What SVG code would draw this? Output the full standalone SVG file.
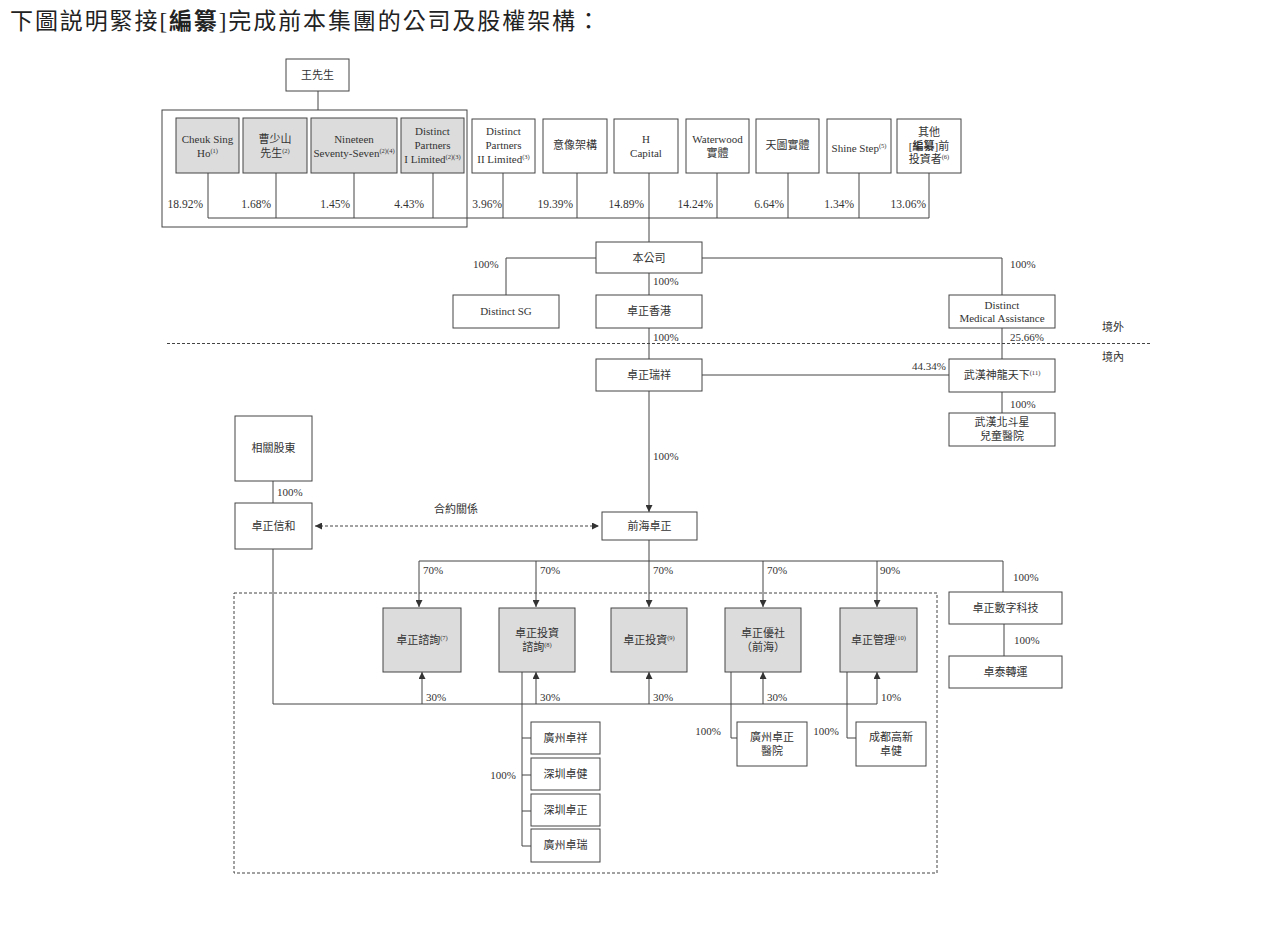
<svg xmlns="http://www.w3.org/2000/svg" width="1269" height="947" viewBox="0 0 1269 947">
<defs>
<style>
text{font-family:"Liberation Serif","Noto Sans CJK TC",serif;fill:#333;font-size:11px}
.t{text-anchor:middle}
.e{text-anchor:end}
.p{font-size:11.5px}
.title{font-size:23px;letter-spacing:1.9px;fill:#222}
.b{fill:#fff;stroke:#444;stroke-width:1}
.g{fill:#dcdcdc;stroke:#444;stroke-width:1}
.ln{fill:none;stroke:#444;stroke-width:1}
.dash{fill:none;stroke:#444;stroke-width:1;stroke-dasharray:3,2}
.sup{font-size:6.5px}
</style>
<marker id="ah" viewBox="0 0 8 8" refX="8" refY="4" markerWidth="7" markerHeight="7" markerUnits="userSpaceOnUse" orient="auto-start-reverse">
<path d="M0,0 L8,4 L0,8 Z" fill="#333"/>
</marker>
</defs>
<rect width="1269" height="947" fill="#fff"/>
<text class="title" x="10" y="29">下圖説明緊接[<tspan font-weight="bold">編纂</tspan>]完成前本集團的公司及股權架構：</text>

<g id="connectors">
<path class="ln" d="M318,91 V110"/>
<rect class="ln" x="162" y="110" width="305" height="117"/>
<path class="ln" d="M208,218 H929 M208,173 V218 M276,173 V218 M354,173 V218 M433,173 V218 M503,173 V218 M577,173 V218 M717,173 V218 M788,173 V218 M859,173 V218 M929,173 V218"/>
<path class="ln" d="M649,173 V242"/>
<path class="ln" d="M596,258 H506 V295 M702,258 H1002 V295 M649,273 V295 M649,328 V359 M1002,328 V359 M702,375 H949 M1002,391 V413"/>
<path class="ln" d="M649,391 V512" marker-end="url(#ah)"/>
<path class="ln" d="M273,481 V503"/>
<path class="dash" d="M315,526 H599" marker-start="url(#ah)" marker-end="url(#ah)"/>
<path class="ln" d="M649,540 V561 M419,561 H1003 V592"/>
<path class="ln" d="M419,561 V607" marker-end="url(#ah)"/>
<path class="ln" d="M536,561 V607" marker-end="url(#ah)"/>
<path class="ln" d="M649,561 V607" marker-end="url(#ah)"/>
<path class="ln" d="M763,561 V607" marker-end="url(#ah)"/>
<path class="ln" d="M877,561 V607" marker-end="url(#ah)"/>
<path class="ln" d="M273,549 V704 H877"/>
<path class="ln" d="M422,704 V672" marker-end="url(#ah)"/>
<path class="ln" d="M536,704 V672" marker-end="url(#ah)"/>
<path class="ln" d="M649,704 V672" marker-end="url(#ah)"/>
<path class="ln" d="M763,704 V672" marker-end="url(#ah)"/>
<path class="ln" d="M877,704 V672" marker-end="url(#ah)"/>
<path class="ln" d="M522,672 V846 M522,738 H531 M522,775 H531 M522,811 H531 M522,846 H531"/>
<path class="ln" d="M731,672 V738 H737 M847,672 V738 H856"/>
<path class="ln" d="M1004,624 V656"/>
<path class="dash" d="M167,343.5 H1152" stroke-dasharray="2,1.5"/>
<rect class="dash" x="234" y="593" width="703" height="280"/>
</g>

<g id="labels">
<text class="p e" x="203" y="208">18.92%</text>
<text class="p e" x="271" y="208">1.68%</text>
<text class="p e" x="350" y="208">1.45%</text>
<text class="p e" x="424" y="208">4.43%</text>
<text class="p e" x="502" y="208">3.96%</text>
<text class="p e" x="573" y="208">19.39%</text>
<text class="p e" x="644" y="208">14.89%</text>
<text class="p e" x="713" y="208">14.24%</text>
<text class="p e" x="784" y="208">6.64%</text>
<text class="p e" x="854" y="208">1.34%</text>
<text class="p e" x="926" y="208">13.06%</text>
<text x="473" y="268">100%</text>
<text x="653" y="285">100%</text>
<text x="653" y="341">100%</text>
<text x="1010" y="268">100%</text>
<text x="1010" y="341">25.66%</text>
<text class="e" x="946" y="370">44.34%</text>
<text x="1010" y="408">100%</text>
<text x="1102" y="331">境外</text>
<text x="1102" y="361">境內</text>
<text x="653" y="460">100%</text>
<text x="277" y="496">100%</text>
<text class="t" x="456" y="513">合約關係</text>
<text x="423" y="574">70%</text>
<text x="540" y="574">70%</text>
<text x="653" y="574">70%</text>
<text x="767" y="574">70%</text>
<text x="880" y="574">90%</text>
<text x="1013" y="581">100%</text>
<text x="1014" y="644">100%</text>
<text x="426" y="701">30%</text>
<text x="540" y="701">30%</text>
<text x="653" y="701">30%</text>
<text x="767" y="701">30%</text>
<text x="881" y="701">10%</text>
<text class="e" x="516" y="779">100%</text>
<text class="e" x="721" y="735">100%</text>
<text class="e" x="839" y="735">100%</text>
</g>

<g id="n-wang"><rect class="b" x="286" y="59" width="63" height="32"/><text class="t" x="317.5" y="79">王先生</text></g>
<g id="n-cheuk"><rect class="g" x="176" y="118" width="63" height="55"/><text class="t" x="207.5" y="143">Cheuk Sing</text><text class="t" x="207.5" y="157">Ho<tspan class="sup" dy="-4">(1)</tspan></text></g>
<g id="n-cao"><rect class="g" x="243" y="118" width="64" height="55"/><text class="t" x="275" y="143">曹少山</text><text class="t" x="275" y="157">先生<tspan class="sup" dy="-4">(2)</tspan></text></g>
<g id="n-nineteen"><rect class="g" x="311" y="118" width="86" height="55"/><text class="t" x="354" y="143">Nineteen</text><text class="t" x="354" y="157">Seventy-Seven<tspan class="sup" dy="-4">(2)(4)</tspan></text></g>
<g id="n-dp1"><rect class="g" x="401" y="118" width="63" height="55"/><text class="t" x="432.5" y="135">Distinct</text><text class="t" x="432.5" y="149">Partners</text><text class="t" x="432.5" y="163">I Limited<tspan class="sup" dy="-4">(2)(3)</tspan></text></g>
<g id="n-dp2"><rect class="b" x="472" y="119" width="63" height="54"/><text class="t" x="503.5" y="135">Distinct</text><text class="t" x="503.5" y="149">Partners</text><text class="t" x="503.5" y="163">II Limited<tspan class="sup" dy="-4">(3)</tspan></text></g>
<g id="n-yixiang"><rect class="b" x="543" y="119" width="64" height="54"/><text class="t" x="575" y="149">意像架構</text></g>
<g id="n-hcap"><rect class="b" x="614" y="119" width="64" height="54"/><text class="t" x="646" y="143">H</text><text class="t" x="646" y="157">Capital</text></g>
<g id="n-waterwood"><rect class="b" x="686" y="119" width="63" height="54"/><text class="t" x="717.5" y="143">Waterwood</text><text class="t" x="717.5" y="157">實體</text></g>
<g id="n-tiantu"><rect class="b" x="756" y="119" width="63" height="54"/><text class="t" x="787.5" y="149">天圖實體</text></g>
<g id="n-shine"><rect class="b" x="827" y="119" width="64" height="54"/><text class="t" x="859" y="152">Shine Step<tspan class="sup" dy="-4">(5)</tspan></text></g>
<g id="n-other"><rect class="b" x="897" y="119" width="64" height="54"/><text class="t" x="929" y="136">其他</text><text class="t" x="929" y="150">[<tspan font-weight="bold">編纂</tspan>]前</text><text class="t" x="929" y="163">投資者<tspan class="sup" dy="-4">(6)</tspan></text></g>

<g id="n-company"><rect class="b" x="596" y="242" width="106" height="31"/><text class="t" x="649" y="262">本公司</text></g>
<g id="n-dsg"><rect class="b" x="453" y="295" width="106" height="33"/><text class="t" x="506" y="315">Distinct SG</text></g>
<g id="n-hk"><rect class="b" x="596" y="295" width="106" height="33"/><text class="t" x="649" y="315">卓正香港</text></g>
<g id="n-dma"><rect class="b" x="949" y="295" width="106" height="33"/><text class="t" x="1002" y="309">Distinct</text><text class="t" x="1002" y="322">Medical Assistance</text></g>
<g id="n-ruixiang"><rect class="b" x="596" y="359" width="106" height="32"/><text class="t" x="649" y="379">卓正瑞祥</text></g>
<g id="n-shenlong"><rect class="b" x="949" y="359" width="106" height="33"/><text class="t" x="1002" y="379">武漢神龍天下<tspan class="sup" dy="-4">(11)</tspan></text></g>
<g id="n-beidou"><rect class="b" x="949" y="413" width="106" height="33"/><text class="t" x="1002" y="426">武漢北斗星</text><text class="t" x="1002" y="440">兒童醫院</text></g>

<g id="n-xianggu"><rect class="b" x="235" y="416" width="77" height="65"/><text class="t" x="273.5" y="452">相關股東</text></g>
<g id="n-xinhe"><rect class="b" x="235" y="503" width="77" height="46"/><text class="t" x="273.5" y="530">卓正信和</text></g>
<g id="n-qianhai"><rect class="b" x="602" y="512" width="95" height="28"/><text class="t" x="649.5" y="530">前海卓正</text></g>

<g id="n-zixun"><rect class="g" x="383" y="608" width="78" height="64"/><text class="t" x="422" y="644">卓正諮詢<tspan class="sup" dy="-4">(7)</tspan></text></g>
<g id="n-tzzx"><rect class="g" x="499" y="608" width="76" height="64"/><text class="t" x="537" y="637">卓正投資</text><text class="t" x="537" y="651">諮詢<tspan class="sup" dy="-4">(8)</tspan></text></g>
<g id="n-touzi"><rect class="g" x="611" y="608" width="76" height="64"/><text class="t" x="649" y="644">卓正投資<tspan class="sup" dy="-4">(9)</tspan></text></g>
<g id="n-youshe"><rect class="g" x="725" y="608" width="76" height="64"/><text class="t" x="763" y="637">卓正優社</text><text class="t" x="763" y="651">（前海）</text></g>
<g id="n-guanli"><rect class="g" x="840" y="608" width="77" height="64"/><text class="t" x="878.5" y="644">卓正管理<tspan class="sup" dy="-4">(10)</tspan></text></g>

<g id="n-shuzi"><rect class="b" x="949" y="592" width="113" height="32"/><text class="t" x="1005.5" y="612">卓正數字科技</text></g>
<g id="n-zhuotai"><rect class="b" x="949" y="656" width="113" height="32"/><text class="t" x="1005.5" y="676">卓泰轉運</text></g>

<g id="n-gzzx"><rect class="b" x="531" y="722" width="69" height="32"/><text class="t" x="565.5" y="742">廣州卓祥</text></g>
<g id="n-szzj"><rect class="b" x="531" y="758" width="69" height="32"/><text class="t" x="565.5" y="778">深圳卓健</text></g>
<g id="n-szzz"><rect class="b" x="531" y="794" width="69" height="32"/><text class="t" x="565.5" y="814">深圳卓正</text></g>
<g id="n-gzzr"><rect class="b" x="531" y="829" width="69" height="33"/><text class="t" x="565.5" y="849">廣州卓瑞</text></g>
<g id="n-gzyy"><rect class="b" x="737" y="722" width="70" height="44"/><text class="t" x="772" y="741">廣州卓正</text><text class="t" x="772" y="755">醫院</text></g>
<g id="n-cdgx"><rect class="b" x="856" y="722" width="70" height="44"/><text class="t" x="891" y="741">成都高新</text><text class="t" x="891" y="755">卓健</text></g>
</svg>
